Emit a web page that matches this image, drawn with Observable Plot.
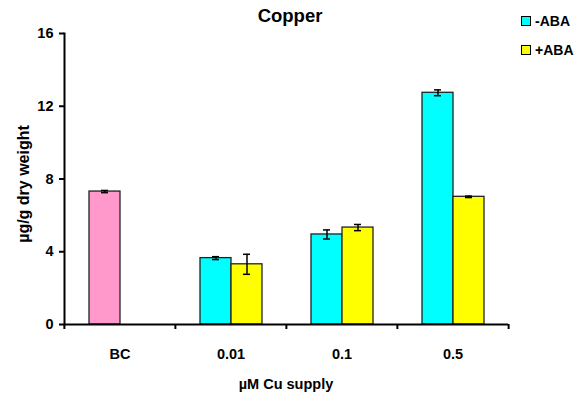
<!DOCTYPE html>
<html>
<head>
<meta charset="utf-8">
<script src="https://cdn.jsdelivr.net/npm/d3@7"></script>
<script src="https://cdn.jsdelivr.net/npm/@observablehq/plot@0.6"></script>
<style>
  html, body { margin: 0; padding: 0; background: #fff; }
  #wrap { position: relative; width: 577px; height: 401px; font-family: "Liberation Sans", Arial, sans-serif; font-weight: bold; color: #000; }
  #wrap svg { position: absolute; left: 0; top: 0; }
  .title { position: absolute; left: 215px; width: 150px; top: 5px; text-align: center; font-size: 18.5px; }
  .xlab { position: absolute; left: 186px; width: 200px; top: 376px; text-align: center; font-size: 14.5px; }
  .ylab { position: absolute; left: 24px; top: 184px; font-size: 16px; white-space: nowrap; transform: translate(-50%, -50%) rotate(-90deg); }
  .leg { position: absolute; left: 521px; font-size: 14px; display: flex; align-items: center; }
  .leg span.sw { display: inline-block; width: 8px; height: 8px; border: 1.3px solid #000; margin-right: 4px; }
</style>
</head>
<body>
<div id="wrap">
  <div class="title">Copper</div>
  <div class="ylab">µg/g dry weight</div>
  <div class="xlab">µM Cu supply</div>
  <div class="leg" style="top:13px"><span class="sw" style="background:#00FFFF"></span>-ABA</div>
  <div class="leg" style="top:42px"><span class="sw" style="background:#FFFF00"></span>+ABA</div>
</div>
<script>
const categories = ["BC", "0.01", "0.1", "0.5"];
const treatments = ["-ABA", "+ABA"];
const barCategory = ["BC", "0.01", "0.01", "0.1", "0.1", "0.5", "0.5"];
const barTreatment = ["-ABA", "-ABA", "+ABA", "-ABA", "+ABA", "-ABA", "+ABA"];
const barGroup = ["BC", "-ABA", "+ABA", "-ABA", "+ABA", "-ABA", "+ABA"];
const means = [7.31, 3.65, 3.31, 4.95, 5.33, 12.74, 7.02];
const errors = [0.06, 0.08, 0.55, 0.25, 0.17, 0.16, 0.04];
const yTicks = [0, 4, 8, 12, 16];
const groupDomain = ["BC", "-ABA", "+ABA"];
const groupColors = ["#FF99CC", "#00FFFF", "#FFFF00"];

const rows = means.map((m, i) => ({
  cat: barCategory[i], trt: barTreatment[i], group: barGroup[i],
  mean: m, lo: m - errors[i], hi: m + errors[i]
}));

const chart = Plot.plot({
  width: 577, height: 401,
  marginTop: 33, marginBottom: 77, marginLeft: 63, marginRight: 69,
  style: {fontFamily: '"Liberation Sans", Arial, sans-serif', fontWeight: "bold", fontSize: "14px", color: "#000", background: "transparent"},
  fx: {domain: categories, padding: 0, label: null},
  x: {domain: treatments, paddingInner: 0, paddingOuter: 0.737, axis: null},
  y: {domain: [0, 16], label: null},
  color: {domain: groupDomain, range: groupColors},
  marks: [
    Plot.barY(rows, {fx: "cat", x: "trt", y: "mean", fill: "group", stroke: "#222", strokeWidth: 1.3}),
    Plot.ruleX(rows, {fx: "cat", x: "trt", y1: "lo", y2: "hi", stroke: "#000", strokeWidth: 1.5}),
    Plot.tickY(rows, {fx: "cat", x: "trt", y: "lo", stroke: "#000", strokeWidth: 1.5, insetLeft: 12, insetRight: 12}),
    Plot.tickY(rows, {fx: "cat", x: "trt", y: "hi", stroke: "#000", strokeWidth: 1.5, insetLeft: 12, insetRight: 12}),
    Plot.ruleY([0], {stroke: "#000", strokeWidth: 2}),
    Plot.frame({anchor: "left", facet: "super", stroke: "#000", strokeWidth: 2}),
    Plot.axisY({ticks: yTicks, tickSize: 5, tickPadding: 6, tickFormat: d3.format("d"), label: null, strokeWidth: 2, fontSize: 14.5, fontWeight: "bold"}),
    Plot.axisFx({anchor: "bottom", tickSize: 0, tickPadding: 24, label: null, fontSize: 14.5, fontWeight: "bold"}),
    Plot.axisFx({anchor: "bottom", tickSize: 5, text: null, label: null, dx: -55.625, strokeWidth: 2}),
    Plot.axisFx({anchor: "bottom", ticks: ["0.5"], tickSize: 5, text: null, label: null, dx: 55.625, strokeWidth: 2})
  ]
});
document.getElementById("wrap").appendChild(chart);
</script>
</body>
</html>
